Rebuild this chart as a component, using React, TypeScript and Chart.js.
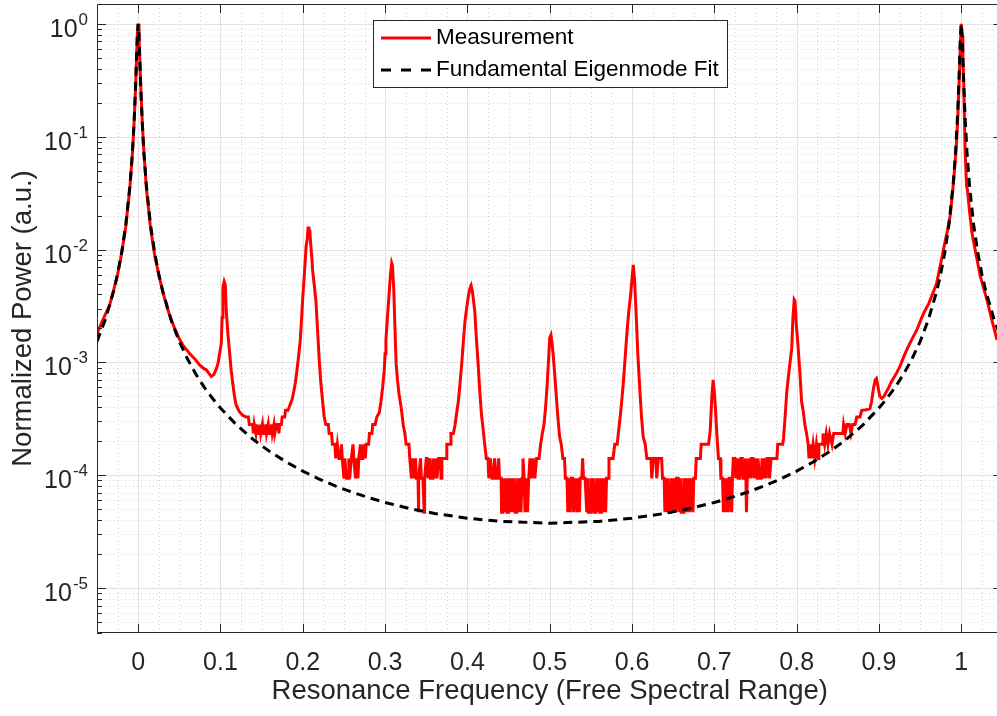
import React, { useEffect, useRef } from 'react';
import { Chart, registerables } from 'chart.js';

Chart.register(...registerables);

const FONT = '"Liberation Sans", Arial, Helvetica, sans-serif';

const xMin = -0.05;
const xMax = 1.0434;
const xAxisEnd = 1.05;
const yMin = 4e-6;
const yMax = 1.5;

const xTickValues = [0, 0.1, 0.2, 0.3, 0.4, 0.5, 0.6, 0.7, 0.8, 0.9, 1];
const xTickLabels = ['0', '0.1', '0.2', '0.3', '0.4', '0.5', '0.6', '0.7', '0.8', '0.9', '1'];
const yTickExponents = [-5, -4, -3, -2, -1, 0];

const xTitle = 'Resonance Frequency (Free Spectral Range)';
const yTitle = 'Normalized Power (a.u.)';
const seriesNames = ['Measurement', 'Fundamental Eigenmode Fit'];

// Measured transmission spectrum [frequency (FSR), normalized power]
const measured: [number, number][] = [
  [-0.05, 1.8e-3], [-0.045, 2.2e-3], [-0.04, 2.65e-3], [-0.035, 3.15e-3], [-0.03, 4.3e-3],
  [-0.025, 6.0e-3], [-0.02, 9.3e-3], [-0.015, 1.6e-2], [-0.01, 3.6e-2], [-0.007, 7.0e-2],
  [-0.005, 0.13], [-0.003, 0.29], [-0.002, 0.5], [-0.001, 0.8], [0, 1.0],
  [0.001, 0.8], [0.002, 0.49], [0.003, 0.3], [0.005, 0.135], [0.007, 0.072],
  [0.01, 0.035], [0.015, 1.55e-2], [0.02, 9.0e-3], [0.025, 6.0e-3], [0.03, 4.2e-3],
  [0.035, 3.1e-3], [0.04, 2.4e-3], [0.045, 1.95e-3], [0.05, 1.62e-3], [0.055, 1.4e-3],
  [0.0625, 1.2e-3], [0.07, 1.05e-3], [0.0746, 9.5e-4], [0.08, 8.8e-4], [0.0827, 8.6e-4],
  [0.086, 8.0e-4], [0.0888, 7.5e-4], [0.092, 7.8e-4], [0.095, 8.8e-4], [0.097, 9.8e-4],
  [0.099, 1.2e-3], [0.101, 1.48e-3], [0.102, 2.5e-3], [0.103, 4.6e-3], [0.1045, 5.2e-3],
  [0.106, 4.8e-3], [0.107, 2.9e-3], [0.109, 1.8e-3], [0.111, 1.25e-3], [0.113, 8.5e-4],
  [0.115, 6.5e-4], [0.117, 5.0e-4], [0.119, 4.2e-4], [0.1229, 3.66e-4], [0.127, 3.4e-4],
  [0.131, 3.29e-4], [0.134, 3.29e-4], [0.135, 2.82e-4], [0.139, 2.82e-4], [0.14, 2.35e-4],
  [0.141, 2.82e-4], [0.143, 2.35e-4], [0.144, 2.82e-4], [0.145, 2.35e-4], [0.147, 2.35e-4],
  [0.148, 2.82e-4], [0.149, 2.35e-4], [0.151, 2.82e-4], [0.152, 2.35e-4], [0.154, 2.35e-4],
  [0.155, 2.82e-4], [0.156, 2.35e-4], [0.158, 2.82e-4], [0.159, 2.35e-4], [0.161, 2.35e-4],
  [0.162, 2.82e-4], [0.163, 2.35e-4], [0.165, 2.82e-4], [0.166, 2.35e-4], [0.168, 2.82e-4],
  [0.17, 2.82e-4], [0.171, 2.35e-4], [0.172, 2.82e-4], [0.174, 2.82e-4], [0.175, 3.29e-4],
  [0.178, 3.29e-4], [0.179, 3.76e-4], [0.182, 3.76e-4], [0.185, 4.3e-4], [0.187, 4.7e-4],
  [0.189, 5.5e-4], [0.191, 6.6e-4], [0.193, 8.6e-4], [0.195, 1.15e-3], [0.197, 1.58e-3],
  [0.199, 2.8e-3], [0.2, 3.8e-3], [0.2015, 5.4e-3], [0.203, 8.0e-3], [0.204, 1.06e-2],
  [0.2055, 1.25e-2], [0.2065, 1.6e-2], [0.2075, 1.3e-2], [0.2085, 1.5e-2], [0.2095, 1.15e-2],
  [0.211, 8.5e-3], [0.212, 6.5e-3], [0.214, 4.8e-3], [0.216, 3.5e-3], [0.218, 1.9e-3],
  [0.22, 1.05e-3], [0.222, 6.5e-4], [0.224, 4.6e-4], [0.226, 3.3e-4], [0.228, 2.82e-4],
  [0.231, 2.82e-4], [0.232, 2.35e-4], [0.235, 2.35e-4], [0.236, 1.88e-4], [0.239, 1.88e-4],
  [0.24, 1.41e-4], [0.242, 1.88e-4], [0.244, 1.41e-4], [0.246, 1.41e-4], [0.247, 1.88e-4],
  [0.248, 1.41e-4], [0.25, 9.4e-5], [0.251, 1.41e-4], [0.253, 9.4e-5], [0.255, 9.4e-5],
  [0.256, 1.41e-4], [0.257, 9.4e-5], [0.259, 1.41e-4], [0.261, 1.88e-4], [0.262, 1.41e-4],
  [0.264, 9.4e-5], [0.265, 1.41e-4], [0.267, 9.4e-5], [0.268, 1.41e-4], [0.27, 1.88e-4],
  [0.271, 1.41e-4], [0.273, 1.41e-4], [0.274, 1.88e-4], [0.276, 1.41e-4], [0.277, 1.88e-4],
  [0.28, 1.88e-4], [0.281, 2.35e-4], [0.284, 2.35e-4], [0.285, 2.82e-4], [0.288, 2.82e-4],
  [0.29, 3.3e-4], [0.293, 3.6e-4], [0.295, 4.5e-4], [0.297, 6.0e-4], [0.299, 8.6e-4],
  [0.3, 1.2e-3], [0.301, 1.58e-3], [0.303, 2.6e-3], [0.305, 4.2e-3], [0.3065, 6.0e-3],
  [0.308, 7.6e-3], [0.309, 7.2e-3], [0.3105, 4.5e-3], [0.312, 2.0e-3], [0.3134, 9.8e-4],
  [0.315, 7.0e-4], [0.317, 5.2e-4], [0.3195, 4.0e-4], [0.322, 2.8e-4], [0.324, 2.35e-4],
  [0.3256, 1.88e-4], [0.329, 1.88e-4], [0.33, 1.41e-4], [0.332, 9.4e-5], [0.333, 1.41e-4],
  [0.335, 9.4e-5], [0.337, 1.41e-4], [0.338, 9.4e-5], [0.34, 9.4e-5], [0.3405, 4.7e-5],
  [0.341, 9.4e-5], [0.343, 1.41e-4], [0.344, 9.4e-5], [0.346, 9.4e-5], [0.3475, 4.7e-5],
  [0.348, 9.4e-5], [0.35, 1.41e-4], [0.351, 1.41e-4], [0.352, 9.4e-5], [0.354, 1.41e-4],
  [0.355, 9.4e-5], [0.357, 9.4e-5], [0.358, 1.41e-4], [0.36, 9.4e-5], [0.362, 1.41e-4],
  [0.363, 9.4e-5], [0.365, 1.41e-4], [0.367, 1.41e-4], [0.368, 9.4e-5], [0.369, 1.41e-4],
  [0.374, 1.41e-4], [0.375, 1.88e-4], [0.379, 1.88e-4], [0.38, 2.35e-4], [0.383, 2.35e-4],
  [0.385, 2.8e-4], [0.387, 3.6e-4], [0.389, 4.5e-4], [0.391, 6.5e-4], [0.393, 9.5e-4],
  [0.395, 1.5e-3], [0.397, 2.3e-3], [0.399, 3.0e-3], [0.401, 3.8e-3], [0.403, 4.5e-3],
  [0.4045, 4.8e-3], [0.406, 4.3e-3], [0.4075, 3.5e-3], [0.409, 2.8e-3], [0.411, 1.6e-3],
  [0.413, 9.8e-4], [0.415, 5.6e-4], [0.417, 3.5e-4], [0.419, 2.6e-4], [0.421, 1.88e-4],
  [0.423, 1.41e-4], [0.425, 1.41e-4], [0.426, 9.4e-5], [0.428, 1.41e-4], [0.43, 9.4e-5],
  [0.432, 9.4e-5], [0.433, 1.41e-4], [0.435, 9.4e-5], [0.437, 9.4e-5], [0.438, 1.41e-4],
  [0.439, 9.4e-5], [0.441, 9.4e-5], [0.4415, 4.7e-5], [0.443, 4.7e-5], [0.4435, 9.4e-5],
  [0.445, 4.7e-5], [0.447, 9.4e-5], [0.448, 4.7e-5], [0.45, 4.7e-5], [0.451, 9.4e-5],
  [0.452, 4.7e-5], [0.454, 9.4e-5], [0.455, 4.7e-5], [0.457, 9.4e-5], [0.458, 4.7e-5],
  [0.46, 4.7e-5], [0.461, 9.4e-5], [0.462, 4.7e-5], [0.464, 9.4e-5], [0.465, 4.7e-5],
  [0.4665, 9.4e-5], [0.4675, 1.41e-4], [0.469, 9.4e-5], [0.47, 4.7e-5], [0.4715, 9.4e-5],
  [0.473, 4.7e-5], [0.4745, 9.4e-5], [0.476, 1.41e-4], [0.478, 9.4e-5], [0.48, 1.41e-4],
  [0.482, 9.4e-5], [0.484, 1.41e-4], [0.487, 1.41e-4], [0.489, 1.88e-4], [0.491, 2.35e-4],
  [0.493, 2.8e-4], [0.495, 4.0e-4], [0.497, 6.5e-4], [0.499, 1.2e-3], [0.5, 1.65e-3],
  [0.5015, 1.75e-3], [0.503, 1.45e-3], [0.5045, 1.1e-3], [0.506, 8.0e-4], [0.508, 5.0e-4],
  [0.51, 3.2e-4], [0.512, 2.2e-4], [0.514, 1.88e-4], [0.516, 1.41e-4], [0.518, 1.41e-4],
  [0.519, 9.4e-5], [0.521, 9.4e-5], [0.522, 4.7e-5], [0.523, 9.4e-5], [0.525, 4.7e-5],
  [0.526, 9.4e-5], [0.528, 9.4e-5], [0.529, 4.7e-5], [0.531, 9.4e-5], [0.533, 4.7e-5],
  [0.534, 9.4e-5], [0.536, 4.7e-5], [0.537, 9.4e-5], [0.539, 9.4e-5], [0.54, 1.41e-4],
  [0.541, 9.4e-5], [0.543, 9.4e-5], [0.545, 4.7e-5], [0.546, 9.4e-5], [0.547, 4.7e-5],
  [0.549, 4.7e-5], [0.55, 9.4e-5], [0.551, 4.7e-5], [0.553, 9.4e-5], [0.554, 4.7e-5],
  [0.556, 4.7e-5], [0.557, 9.4e-5], [0.558, 4.7e-5], [0.56, 9.4e-5], [0.561, 4.7e-5],
  [0.563, 4.7e-5], [0.564, 9.4e-5], [0.565, 4.7e-5], [0.567, 9.4e-5], [0.568, 4.7e-5],
  [0.569, 9.4e-5], [0.571, 9.4e-5], [0.572, 1.41e-4], [0.577, 1.41e-4], [0.579, 1.88e-4],
  [0.582, 1.88e-4], [0.584, 2.6e-4], [0.586, 3.5e-4], [0.588, 5.0e-4], [0.59, 7.5e-4],
  [0.592, 1.2e-3], [0.594, 1.9e-3], [0.596, 2.8e-3], [0.598, 3.8e-3], [0.6, 5.5e-3],
  [0.6015, 7.3e-3], [0.603, 5.5e-3], [0.605, 2.7e-3], [0.607, 1.2e-3], [0.6095, 5.7e-4],
  [0.6115, 3.3e-4], [0.6135, 2.2e-4], [0.616, 1.88e-4], [0.618, 1.41e-4], [0.623, 1.41e-4],
  [0.624, 9.4e-5], [0.626, 1.41e-4], [0.629, 1.41e-4], [0.63, 9.4e-5], [0.632, 1.41e-4],
  [0.636, 1.41e-4], [0.637, 9.4e-5], [0.639, 9.4e-5], [0.64, 4.7e-5], [0.641, 9.4e-5],
  [0.643, 4.7e-5], [0.644, 9.4e-5], [0.645, 4.7e-5], [0.647, 4.7e-5], [0.648, 9.4e-5],
  [0.65, 4.7e-5], [0.651, 9.4e-5], [0.653, 4.7e-5], [0.654, 9.4e-5], [0.656, 9.4e-5],
  [0.657, 4.7e-5], [0.659, 9.4e-5], [0.66, 4.7e-5], [0.662, 4.7e-5], [0.663, 9.4e-5],
  [0.664, 4.7e-5], [0.666, 9.4e-5], [0.667, 4.7e-5], [0.669, 9.4e-5], [0.67, 4.7e-5],
  [0.672, 9.4e-5], [0.674, 4.7e-5], [0.675, 9.4e-5], [0.677, 9.4e-5], [0.678, 1.41e-4],
  [0.683, 1.41e-4], [0.684, 1.88e-4], [0.693, 1.88e-4], [0.695, 2.5e-4], [0.697, 5.0e-4],
  [0.6985, 7.0e-4], [0.7, 5.5e-4], [0.7015, 3.7e-4], [0.703, 2.35e-4], [0.705, 1.41e-4],
  [0.707, 1.41e-4], [0.708, 9.4e-5], [0.71, 9.4e-5], [0.711, 4.7e-5], [0.712, 9.4e-5],
  [0.714, 4.7e-5], [0.715, 9.4e-5], [0.717, 4.7e-5], [0.718, 9.4e-5], [0.72, 9.4e-5],
  [0.721, 4.7e-5], [0.722, 9.4e-5], [0.723, 1.41e-4], [0.725, 1.41e-4], [0.726, 9.4e-5],
  [0.728, 1.41e-4], [0.729, 9.4e-5], [0.731, 9.4e-5], [0.732, 1.41e-4], [0.734, 1.41e-4],
  [0.735, 9.4e-5], [0.737, 9.4e-5], [0.738, 1.41e-4], [0.739, 4.7e-5], [0.74, 9.4e-5],
  [0.742, 1.41e-4], [0.744, 9.4e-5], [0.745, 1.41e-4], [0.747, 1.41e-4], [0.748, 9.4e-5],
  [0.75, 1.41e-4], [0.752, 9.4e-5], [0.753, 1.41e-4], [0.755, 9.4e-5], [0.757, 9.4e-5],
  [0.758, 1.41e-4], [0.76, 9.4e-5], [0.761, 1.41e-4], [0.763, 9.4e-5], [0.764, 1.41e-4],
  [0.766, 1.41e-4], [0.767, 9.4e-5], [0.769, 1.41e-4], [0.776, 1.41e-4], [0.777, 1.88e-4],
  [0.783, 1.88e-4], [0.784, 2.1e-4], [0.786, 3.3e-4], [0.788, 5.5e-4], [0.79, 7.5e-4],
  [0.792, 1.0e-3], [0.794, 1.33e-3], [0.7955, 2.5e-3], [0.797, 3.6e-3], [0.798, 3.5e-3],
  [0.7995, 2.2e-3], [0.8015, 1.45e-3], [0.804, 8.0e-4], [0.806, 4.5e-4], [0.808, 3.7e-4],
  [0.81, 2.8e-4], [0.812, 2.35e-4], [0.814, 1.88e-4], [0.815, 1.41e-4], [0.817, 1.88e-4],
  [0.818, 1.41e-4], [0.82, 1.88e-4], [0.822, 1.41e-4], [0.824, 1.88e-4], [0.826, 1.41e-4],
  [0.827, 1.88e-4], [0.831, 1.88e-4], [0.832, 2.35e-4], [0.834, 1.88e-4], [0.836, 2.35e-4],
  [0.838, 1.88e-4], [0.84, 2.35e-4], [0.843, 1.88e-4], [0.845, 2.35e-4], [0.856, 2.35e-4],
  [0.857, 2.82e-4], [0.859, 2.35e-4], [0.861, 2.82e-4], [0.864, 2.82e-4], [0.866, 2.35e-4],
  [0.868, 2.82e-4], [0.871, 2.82e-4], [0.873, 3.29e-4], [0.877, 3.29e-4], [0.879, 3.76e-4],
  [0.885, 3.8e-4], [0.889, 3.9e-4], [0.891, 4.5e-4], [0.8935, 6.0e-4], [0.8955, 7.0e-4],
  [0.897, 7.2e-4], [0.899, 6.0e-4], [0.901, 5.0e-4], [0.9035, 4.8e-4], [0.906, 5.0e-4],
  [0.909, 5.5e-4], [0.9115, 5.9e-4], [0.914, 6.5e-4], [0.918, 7.3e-4], [0.922, 8.2e-4],
  [0.926, 9.4e-4], [0.93, 1.12e-3], [0.935, 1.35e-3], [0.94, 1.6e-3], [0.946, 1.94e-3],
  [0.95, 2.3e-3], [0.955, 2.8e-3], [0.9603, 3.3e-3], [0.9666, 4.3e-3], [0.97, 5.0e-3],
  [0.9765, 8.5e-3], [0.98, 1.15e-2], [0.983, 1.45e-2], [0.9866, 2.0e-2], [0.9906, 4.0e-2],
  [0.9939, 8.0e-2], [0.996, 0.16], [0.998, 0.4], [0.999, 0.7], [1.0, 1.0],
  [1.001, 0.78], [1.002, 0.5], [1.003, 0.3], [1.004, 0.13], [1.0046, 0.077],
  [1.0065, 0.036], [1.0075, 0.034], [1.01, 0.022], [1.013, 0.014], [1.0169, 9.9e-3],
  [1.0231, 5.8e-3], [1.0312, 3.58e-3], [1.037, 2.4e-3], [1.0434, 1.58e-3], [1.05, 1.2e-3],
];

// Fitted fundamental eigenmode (Airy) curve [frequency (FSR), normalized power]
const fitted: [number, number][] = [
  [-0.05, 1.53e-3], [-0.04, 2.39e-3], [-0.03, 4.23e-3], [-0.025, 6.07e-3], [-0.02, 9.44e-3],
  [-0.015, 1.67e-2], [-0.01, 3.67e-2], [-0.007, 7.2e-2], [-0.005, 0.132], [-0.004, 0.192],
  [-0.003, 0.297], [-0.002, 0.488], [-0.001, 0.792], [0, 1.0], [0.001, 0.792],
  [0.002, 0.488], [0.003, 0.297], [0.004, 0.192], [0.005, 0.132], [0.007, 7.2e-2],
  [0.01, 3.67e-2], [0.015, 1.67e-2], [0.02, 9.44e-3], [0.025, 6.07e-3], [0.03, 4.23e-3],
  [0.04, 2.39e-3], [0.05, 1.53e-3], [0.06, 1.07e-3], [0.07, 7.9e-4], [0.08, 6.07e-4],
  [0.09, 4.83e-4], [0.1, 3.94e-4], [0.12, 2.77e-4], [0.14, 2.07e-4], [0.16, 1.62e-4],
  [0.18, 1.31e-4], [0.2, 1.088e-4], [0.22, 9.25e-5], [0.24, 8.02e-5], [0.26, 7.07e-5],
  [0.28, 6.33e-5], [0.3, 5.74e-5], [0.33, 5.07e-5], [0.36, 4.59e-5], [0.4, 4.16e-5],
  [0.44, 3.9e-5], [0.5, 3.76e-5], [0.56, 3.9e-5], [0.6, 4.16e-5], [0.64, 4.59e-5],
  [0.67, 5.07e-5], [0.7, 5.74e-5], [0.72, 6.33e-5], [0.74, 7.07e-5], [0.76, 8.02e-5],
  [0.78, 9.25e-5], [0.8, 1.088e-4], [0.82, 1.31e-4], [0.84, 1.62e-4], [0.86, 2.07e-4],
  [0.88, 2.77e-4], [0.9, 3.94e-4], [0.91, 4.83e-4], [0.92, 6.07e-4], [0.93, 7.9e-4],
  [0.94, 1.07e-3], [0.95, 1.53e-3], [0.96, 2.39e-3], [0.97, 4.23e-3], [0.975, 6.07e-3],
  [0.98, 9.44e-3], [0.985, 1.67e-2], [0.99, 3.67e-2], [0.993, 7.2e-2], [0.995, 0.132],
  [0.996, 0.192], [0.997, 0.297], [0.998, 0.488], [0.999, 0.792], [1.0, 1.0],
  [1.001, 0.792], [1.002, 0.488], [1.003, 0.297], [1.004, 0.192], [1.005, 0.132],
  [1.007, 7.2e-2], [1.01, 3.67e-2], [1.015, 1.67e-2], [1.02, 9.44e-3], [1.025, 6.07e-3],
  [1.03, 4.23e-3], [1.04, 2.39e-3], [1.05, 1.53e-3],
];

const AXIS_COLOR = '#262626';

const matlabAxes = {
  id: 'matlabAxes',
  beforeDatasetsDraw(chart: any) {
    const { ctx, chartArea: a, scales } = chart;
    const xs = scales.x;
    const ys = scales.y;
    ctx.save();
    ctx.beginPath();
    ctx.rect(a.left, a.top, a.right - a.left, a.bottom - a.top);
    ctx.clip();
    // minor grid (dotted)
    ctx.strokeStyle = '#d2d2d2';
    ctx.lineWidth = 1;
    ctx.setLineDash([1, 3]);
    ctx.beginPath();
    for (let i = -1; i <= 42; i++) {
      if (i % 4 === 0) continue;
      const px = Math.round(xs.getPixelForValue(i * 0.025)) + 0.5;
      ctx.moveTo(px, a.top);
      ctx.lineTo(px, a.bottom);
    }
    for (let e = -6; e <= 0; e++) {
      for (let m = 2; m <= 9; m++) {
        const v = m * Math.pow(10, e);
        if (v < yMin || v > yMax) continue;
        const py = Math.round(ys.getPixelForValue(v)) + 0.5;
        ctx.moveTo(a.left, py);
        ctx.lineTo(a.right, py);
      }
    }
    ctx.stroke();
    // major grid
    ctx.setLineDash([]);
    ctx.strokeStyle = '#e2e2e2';
    ctx.beginPath();
    for (const v of xTickValues) {
      const px = Math.round(xs.getPixelForValue(v)) + 0.5;
      ctx.moveTo(px, a.top);
      ctx.lineTo(px, a.bottom);
    }
    for (const e of yTickExponents) {
      const py = Math.round(ys.getPixelForValue(Math.pow(10, e))) + 0.5;
      ctx.moveTo(a.left, py);
      ctx.lineTo(a.right, py);
    }
    ctx.stroke();
    ctx.restore();
  },
  afterDatasetsDraw(chart: any) {
    const { ctx, chartArea: a, scales } = chart;
    const xs = scales.x;
    const ys = scales.y;
    const rightPx = xs.getPixelForValue(xAxisEnd);
    ctx.save();
    ctx.strokeStyle = AXIS_COLOR;
    ctx.lineWidth = 1;
    ctx.setLineDash([]);
    // box lines
    ctx.beginPath();
    ctx.moveTo(a.left + 0.5, a.top + 0.5);
    ctx.lineTo(a.left + 0.5, a.bottom - 0.5);
    ctx.lineTo(rightPx, a.bottom - 0.5);
    ctx.moveTo(a.left + 0.5, a.top + 0.5);
    ctx.lineTo(rightPx, a.top + 0.5);
    ctx.stroke();
    // x ticks (inward, bottom and top)
    ctx.beginPath();
    for (const v of xTickValues) {
      const px = Math.round(xs.getPixelForValue(v)) + 0.5;
      ctx.moveTo(px, a.bottom);
      ctx.lineTo(px, a.bottom - 9);
      ctx.moveTo(px, a.top);
      ctx.lineTo(px, a.top + 9);
    }
    // y ticks (inward, left and right)
    for (let e = -6; e <= 0; e++) {
      for (let m = 1; m <= 9; m++) {
        const v = m * Math.pow(10, e);
        if (v < yMin || v > yMax) continue;
        const py = Math.round(ys.getPixelForValue(v)) + 0.5;
        const len = m === 1 ? 9 : 5;
        ctx.moveTo(a.left, py);
        ctx.lineTo(a.left + len, py);
        ctx.moveTo(rightPx, py);
        ctx.lineTo(rightPx - len, py);
      }
    }
    ctx.stroke();

    // x tick labels
    ctx.fillStyle = AXIS_COLOR;
    ctx.font = `25px ${FONT}`;
    ctx.textAlign = 'center';
    ctx.textBaseline = 'alphabetic';
    xTickValues.forEach((v, i) => {
      ctx.fillText(xTickLabels[i], xs.getPixelForValue(v), 670);
    });
    // y tick labels 10^n
    for (const e of yTickExponents) {
      const py = ys.getPixelForValue(Math.pow(10, e));
      const expText = String(e);
      ctx.font = `17px ${FONT}`;
      ctx.textAlign = 'right';
      const expW = ctx.measureText(expText).width;
      ctx.fillText(expText, 88, py + 1);
      ctx.font = `25px ${FONT}`;
      ctx.fillText('10', 88 - expW - 1, py + 13);
    }
    // axis titles
    ctx.font = `27.5px ${FONT}`;
    ctx.textAlign = 'center';
    ctx.fillText(xTitle, (a.left + rightPx) / 2, 699);
    ctx.save();
    ctx.translate(31, (a.top + a.bottom) / 2);
    ctx.rotate(-Math.PI / 2);
    ctx.fillText(yTitle, 0, 0);
    ctx.restore();

    // legend
    const lx = 373, ly = 20, lw = 354, lh = 67;
    ctx.fillStyle = '#ffffff';
    ctx.fillRect(lx, ly, lw, lh);
    ctx.strokeStyle = AXIS_COLOR;
    ctx.lineWidth = 1;
    ctx.strokeRect(lx + 0.5, ly + 0.5, lw, lh);
    ctx.lineWidth = 3;
    ctx.strokeStyle = '#ff0000';
    ctx.beginPath();
    ctx.moveTo(381, 38);
    ctx.lineTo(431, 38);
    ctx.stroke();
    ctx.strokeStyle = '#000000';
    ctx.setLineDash([10, 10]);
    ctx.beginPath();
    ctx.moveTo(381, 70);
    ctx.lineTo(431, 70);
    ctx.stroke();
    ctx.setLineDash([]);
    ctx.fillStyle = '#000000';
    ctx.font = `22.5px ${FONT}`;
    ctx.textAlign = 'left';
    ctx.textBaseline = 'middle';
    ctx.fillText(seriesNames[0], 436, 38);
    ctx.fillText(seriesNames[1], 436, 70);
    ctx.restore();
  },
};

export default function App() {
  const canvasRef = useRef<HTMLCanvasElement | null>(null);

  useEffect(() => {
    const canvas = canvasRef.current;
    if (!canvas) return;
    const chart = new Chart(canvas, {
      type: 'line',
      data: {
        datasets: [
          {
            label: seriesNames[1],
            data: fitted.map(([x, y]) => ({ x, y })),
            borderColor: '#000000',
            borderWidth: 3,
            borderDash: [9, 6],
            pointRadius: 0,
            tension: 0,
            fill: false,
            order: 0,
          },
          {
            label: seriesNames[0],
            data: measured.map(([x, y]) => ({ x, y })),
            borderColor: '#ff0000',
            borderWidth: 3,
            pointRadius: 0,
            tension: 0,
            fill: false,
            order: 1,
            borderJoinStyle: 'miter',
          },
        ],
      },
      options: {
        animation: false,
        responsive: false,
        devicePixelRatio: 1,
        layout: { padding: { left: 97, top: 4, right: 0, bottom: 83 } },
        plugins: { legend: { display: false }, tooltip: { enabled: false } },
        events: [],
        scales: {
          x: { type: 'linear', min: xMin, max: xMax, display: false },
          y: { type: 'logarithmic', min: yMin, max: yMax, display: false },
        },
      },
      plugins: [matlabAxes],
    });
    return () => chart.destroy();
  }, []);

  return (
    <div style={{ position: 'absolute', left: 0, top: 0, width: 997, height: 716, background: '#ffffff' }}>
      <canvas ref={canvasRef} width={997} height={716} />
    </div>
  );
}
